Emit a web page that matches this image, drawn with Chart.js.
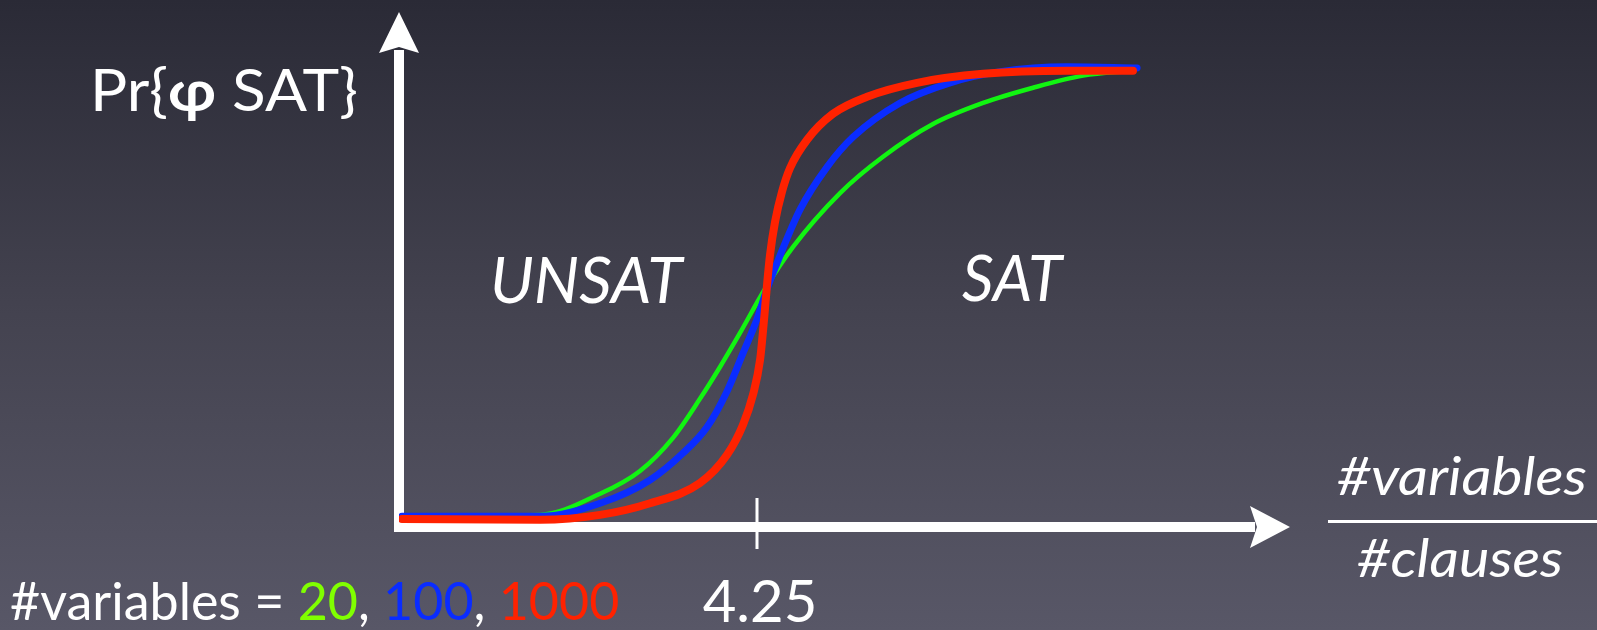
<!DOCTYPE html>
<html>
<head>
<meta charset="utf-8">
<script src="https://cdn.jsdelivr.net/npm/chart.js@4.4.1/dist/chart.umd.min.js"></script>
<style>
  html, body { margin: 0; padding: 0; background: #3f3e4b; overflow: hidden; }
  #wrap { width: 1597px; height: 630px; }
</style>
</head>
<body>
<div id="wrap"><canvas id="c" width="1597" height="630"></canvas></div>
<script>
// ---- data ----
const seriesNames = ["20", "100", "1000"];
const greenX = [2.000, 2.875, 3.255, 3.508, 3.717, 3.888, 4.015, 4.142, 4.300, 4.478, 4.776, 5.048, 5.365, 5.682, 5.999, 6.316, 6.632];
const greenY = [0.004, 0.007, 0.054, 0.105, 0.179, 0.266, 0.337, 0.413, 0.511, 0.605, 0.725, 0.806, 0.879, 0.926, 0.960, 0.987, 0.998];
const blueX  = [2.000, 2.875, 3.255, 3.572, 3.781, 3.933, 4.060, 4.161, 4.250, 4.313, 4.364, 4.522, 4.693, 4.858, 5.156, 5.473, 5.790, 6.214, 6.658];
const blueY  = [0.004, 0.004, 0.033, 0.085, 0.145, 0.203, 0.283, 0.368, 0.444, 0.511, 0.558, 0.688, 0.783, 0.850, 0.926, 0.971, 0.996, 1.007, 1.004];
const redX   = [2.000, 2.875, 3.255, 3.572, 3.888, 4.060, 4.161, 4.224, 4.269, 4.294, 4.313, 4.332, 4.364, 4.408, 4.459, 4.567, 4.731, 4.947, 5.264, 5.682, 6.214, 6.632];
const redY   = [-0.002, -0.004, 0.007, 0.033, 0.078, 0.141, 0.208, 0.275, 0.353, 0.442, 0.520, 0.587, 0.661, 0.728, 0.781, 0.844, 0.902, 0.940, 0.971, 0.991, 0.998, 0.998];
const xTicks = [4.25];
const xTickLabels = ["4.25"];
const xRange = [1.981, 7.627];
const yRange = [-0.020, 1.129];

const pts = (xs, ys) => xs.map((x, i) => ({ x: x, y: ys[i] }));

const FONT = "Lato, 'Open Sans', sans-serif";

// draw text stretched horizontally to a given width (Gill Sans substitute)
function fitText(ctx, text, x, y, font, width, align) {
  ctx.font = font;
  const m = ctx.measureText(text).width;
  const s = width / m;
  ctx.save();
  let left = x;
  if (align === 'center') left = x - width / 2;
  ctx.translate(left, y);
  ctx.scale(s, 1);
  ctx.textAlign = 'left';
  ctx.fillText(text, 0, 0);
  ctx.restore();
}

const bgPlugin = {
  id: 'bg',
  beforeDraw(chart) {
    const ctx = chart.ctx;
    const g = ctx.createLinearGradient(0, 0, 0, chart.height);
    g.addColorStop(0, '#2a2a36');
    g.addColorStop(0.5, '#444350');
    g.addColorStop(1, '#585767');
    ctx.save();
    ctx.fillStyle = g;
    ctx.fillRect(0, 0, chart.width, chart.height);
    ctx.restore();
  }
};

const axesPlugin = {
  id: 'arrows',
  beforeDatasetsDraw(chart) {
    const ctx = chart.ctx;
    const xs = chart.scales.x;
    const a = chart.chartArea;
    const ox = a.left, oy = a.bottom;
    ctx.save();
    ctx.fillStyle = '#ffffff';
    // vertical shaft
    ctx.fillRect(ox - 5, a.top + 38, 10, oy - a.top - 38 + 5);
    // vertical head
    ctx.beginPath();
    ctx.moveTo(ox, a.top);
    ctx.lineTo(ox + 20, a.top + 41);
    ctx.lineTo(ox, a.top + 35);
    ctx.lineTo(ox - 20, a.top + 41);
    ctx.closePath();
    ctx.fill();
    // horizontal shaft
    ctx.fillRect(ox - 5, oy - 5, a.right - 35 - (ox - 5), 10);
    // horizontal head
    ctx.beginPath();
    ctx.moveTo(a.right, oy);
    ctx.lineTo(a.right - 40, oy - 21);
    ctx.lineTo(a.right - 33, oy);
    ctx.lineTo(a.right - 40, oy + 21);
    ctx.closePath();
    ctx.fill();
    // ticks + labels
    xTicks.forEach((t, i) => {
      const px = Math.round(xs.getPixelForValue(t));
      ctx.fillRect(px - 1.5, oy - 29, 3, 51);
      ctx.font = '58px ' + FONT;
      ctx.textAlign = 'center';
      ctx.textBaseline = 'alphabetic';
      ctx.fillText(xTickLabels[i], px + 3, 622);
    });
    ctx.restore();
  },
  afterDatasetsDraw(chart) {
    const ctx = chart.ctx;
    ctx.save();
    ctx.fillStyle = '#ffffff';
    ctx.textBaseline = 'alphabetic';
    // y label: Pr{φ SAT} with a bold phi, fitted to 268px
    const f1 = '58px ' + FONT, f2 = 'bold 58px ' + FONT;
    ctx.font = f1; const w1 = ctx.measureText('Pr{').width;
    ctx.font = f2; const w2 = ctx.measureText('\u03C6').width;
    ctx.font = f1; const w3 = ctx.measureText(' SAT}').width;
    const sc = 268 / (w1 + w2 + w3);
    ctx.save();
    ctx.translate(90, 111);
    ctx.scale(sc, 1);
    ctx.textAlign = 'left';
    ctx.font = f1; ctx.fillText('Pr{', 0, 0);
    ctx.font = f2; ctx.fillText('\u03C6', w1, 0);
    ctx.font = f1; ctx.fillText(' SAT}', w1 + w2, 0);
    ctx.restore();
    // region labels
    ctx.textAlign = 'left';
    ctx.font = 'italic 64px ' + FONT;
    ctx.fillText('UNSAT', 490, 303);
    fitText(ctx, 'SAT', 962, 301, 'italic 64px ' + FONT, 100, 'left');
    // x label (fraction)
    fitText(ctx, '#variables', 1462, 495, 'italic 53px ' + FONT, 250, 'center');
    fitText(ctx, '#clauses', 1460, 577, 'italic 53px ' + FONT, 206, 'center');
    ctx.fillRect(1328, 520, 269, 3);
    // series legend
    ctx.textAlign = 'left';
    ctx.font = '52px ' + FONT;
    const parts = [
      ['#variables = ', '#ffffff'],
      [seriesNames[0], '#80ff00'],
      [', ', '#ffffff'],
      [seriesNames[1], '#0a2cff'],
      [', ', '#ffffff'],
      [seriesNames[2], '#ff2200']
    ];
    let x = 10;
    parts.forEach(p => {
      ctx.fillStyle = p[1];
      ctx.fillText(p[0], x, 620);
      x += ctx.measureText(p[0]).width;
    });
    ctx.restore();
  }
};

const common = {
  pointRadius: 0,
  pointHoverRadius: 0,
  fill: false,
  cubicInterpolationMode: 'monotone',
  borderCapStyle: 'round',
  borderJoinStyle: 'round'
};

new Chart(document.getElementById('c'), {
  type: 'line',
  data: {
    datasets: [
      Object.assign({ label: seriesNames[2], data: pts(redX, redY), borderColor: '#ff2200', borderWidth: 8, order: 0 }, common),
      Object.assign({ label: seriesNames[1], data: pts(blueX, blueY), borderColor: '#0a2cff', borderWidth: 7, order: 1 }, common),
      Object.assign({ label: seriesNames[0], data: pts(greenX, greenY), borderColor: '#11f511', borderWidth: 4.5, order: 2 }, common)
    ]
  },
  options: {
    responsive: false,
    animation: false,
    devicePixelRatio: 1,
    layout: { padding: { left: 399, right: 307, top: 12, bottom: 103 } },
    plugins: { legend: { display: false }, tooltip: { enabled: false } },
    events: [],
    scales: {
      x: { type: 'linear', min: xRange[0], max: xRange[1], display: false },
      y: { type: 'linear', min: yRange[0], max: yRange[1], display: false }
    }
  },
  plugins: [bgPlugin, axesPlugin]
});
</script>
</body>
</html>
